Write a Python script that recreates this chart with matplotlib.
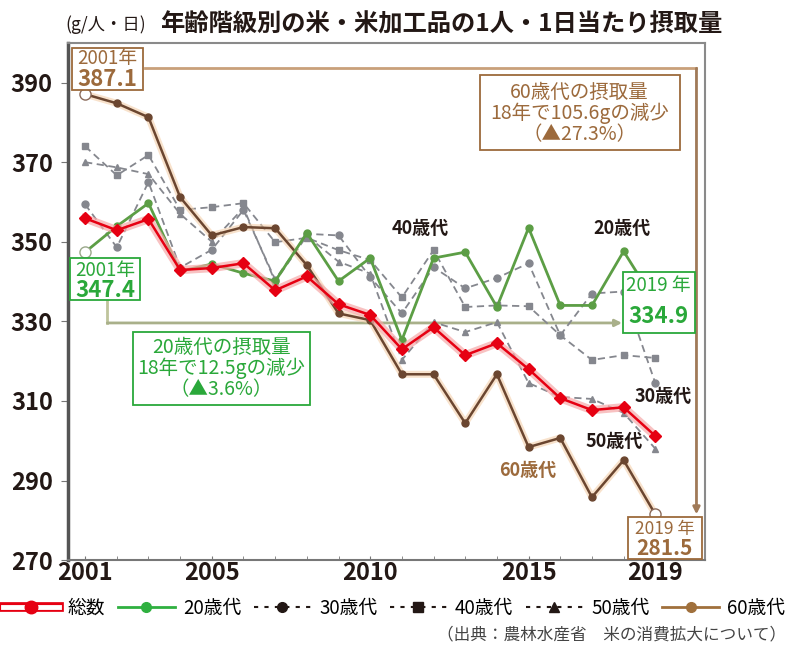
import matplotlib
matplotlib.use("Agg")
import matplotlib.pyplot as plt
from matplotlib.lines import Line2D
from matplotlib.patches import Rectangle
from matplotlib.legend_handler import HandlerTuple

plt.rcParams['font.family'] = ['Noto Sans CJK JP', 'DejaVu Sans']

# データ
years = list(range(2001, 2020))
total = [355.9, 352.9, 355.7, 342.9, 343.4, 344.6, 337.8, 341.3, 334.3, 331.6,
         323.0, 328.5, 321.5, 324.5, 318.0, 310.7, 307.7, 308.4, 301.2]
age20 = [347.4, 353.9, 359.7, 342.6, 344.4, 342.1, 340.1, 352.2, 340.1, 345.9,
         325.3, 345.9, 347.4, 333.6, 353.5, 334.0, 334.0, 347.6, 334.9]
age30 = [359.4, 348.6, 365.0, 343.5, 348.0, 358.0, 340.5, 352.0, 351.6, 341.1,
         332.0, 343.6, 338.3, 340.9, 344.6, 326.5, 337.0, 337.5, 314.5]
age40 = [374.0, 366.7, 371.8, 358.0, 358.7, 359.7, 349.9, 351.0, 347.9, 345.4,
         336.0, 347.9, 333.6, 334.0, 333.8, 326.5, 320.3, 321.5, 320.8]
age50 = [370.0, 368.7, 367.0, 357.0, 350.0, 358.5, 340.0, 351.5, 345.0, 342.0,
         320.3, 329.8, 327.3, 329.8, 314.5, 311.0, 310.5, 307.0, 298.0]
age60 = [387.1, 384.8, 381.3, 361.2, 351.6, 353.7, 353.4, 344.1, 332.0, 330.3,
         316.7, 316.7, 304.4, 316.7, 298.4, 300.7, 285.8, 295.1, 281.5]

xtick_years = [2001, 2005, 2010, 2015, 2019]
ytick_vals = [270, 290, 310, 330, 350, 370, 390]

RED = "#e60012"
GREEN = "#5c9e45"
GREEN_T = "#2aa83a"
GREY = "#85878e"
BROWN = "#6b4630"
BROWN_T = "#9c6a3c"

fig = plt.figure(figsize=(7.88, 6.49), dpi=100)
ax = fig.add_axes([0.0863, 0.137, 0.808, 0.797])
ax.set_xlim(2000.46, 2020.56)
ax.set_ylim(270, 400)

# 参照線（2001年→2019年）
ax.plot([2002.9, 2020.3], [393.6, 393.6], color="#c9a07a", lw=2, zorder=1)
ax.annotate("", xy=(2020.3, 281.5), xytext=(2020.3, 393.6),
            arrowprops=dict(arrowstyle="-|>", color="#a07a58", lw=2,
                            mutation_scale=10, shrinkA=0, shrinkB=0), zorder=1)
ax.plot([2001.7, 2001.7], [335.3, 329.6], color="#bfc49c", lw=2, zorder=1)
ax.annotate("", xy=(2017.95, 329.6), xytext=(2001.7, 329.6),
            arrowprops=dict(arrowstyle="-|>", color="#a9b08a", lw=2,
                            mutation_scale=10, shrinkA=0, shrinkB=0), zorder=1)

# 系列
dash_kw = dict(color=GREY, lw=1.3, dashes=(4, 2.5), ms=5, mfc=GREY, mec=GREY, zorder=3)
ax.plot(years, age40, marker="s", **dash_kw)
ax.plot(years, age50, marker="^", **dash_kw)
ax.plot(years, age30, marker="o", **dash_kw)

ax.plot(years, age60, color="#f4cfaa", lw=5, alpha=0.6, zorder=4)
ax.plot(years[:-1], age60[:-1], color=BROWN, lw=1.8, marker="o", ms=5, zorder=5)
ax.plot(years[-2:], age60[-2:], color=BROWN, lw=1.8, zorder=5)
ax.plot(years[-1], age60[-1], marker="o", ms=8, mfc="white", mec="#8a6a5a", zorder=6)
ax.plot(years[0], age60[0], marker="o", ms=8, mfc="white", mec="#8a6a5a", zorder=6)

ax.plot(years, age20, color=GREEN, lw=2, marker="o", ms=5, zorder=6)
ax.plot([years[0], years[-1]], [age20[0], age20[-1]], ls="none", marker="o", ms=8,
        mfc="white", mec="#9aa88a", zorder=7)

ax.plot(years, total, color="#f6a8a8", lw=6, alpha=0.7, zorder=7)
ax.plot(years, total, color=RED, lw=1.8, marker="D", ms=6, zorder=8)

# 軸
for side in ["top", "right"]:
    ax.spines[side].set_color("#8a8a8a")
    ax.spines[side].set_linewidth(1.5)
ax.spines["left"].set_color("#555555")
ax.spines["left"].set_linewidth(2.5)
ax.spines["bottom"].set_color("#777777")
ax.spines["bottom"].set_linewidth(1.5)

ax.set_xticks(xtick_years)
ax.set_xticks(years + [2020], minor=True)
ax.set_yticks(ytick_vals)
ax.tick_params(axis="x", which="both", direction="in", length=3, color="#777777",
               labelsize=17, pad=1)
ax.tick_params(axis="y", direction="out", length=5, color="#777777", labelsize=17, pad=6)
for lab in ax.get_xticklabels() + ax.get_yticklabels():
    lab.set_fontweight("bold")
    lab.set_color("#231815")

# タイトル
fig.text(0.083, 0.962, "(g/人・日)", fontsize=12.5, color="#231815", va="center")
fig.text(0.203, 0.962, "年齢階級別の米・米加工品の1人・1日当たり摂取量",
         fontsize=17.5, fontweight="bold", color="#231815", va="center")


def box(x0, y0, x1, y1, color):
    ax.add_patch(Rectangle((x0, y0), x1 - x0, y1 - y0, fill=True, fc="white",
                           ec=color, lw=1.3, zorder=9))


# 2001年 60歳代
box(2000.59, 388.1, 2002.83, 398.6, BROWN_T)
ax.text(2001.71, 396.0, "2001年", color=BROWN_T, fontsize=13.5, ha="center", va="center", zorder=10)
ax.text(2001.71, 390.9, "387.1", color=BROWN_T, fontsize=16, fontweight="bold",
        ha="center", va="center", zorder=10)

# 2001年 20歳代
box(2000.53, 335.3, 2002.73, 345.9, GREEN_T)
ax.text(2001.63, 342.9, "2001年", color=GREEN_T, fontsize=13.5, ha="center", va="center", zorder=10)
ax.text(2001.63, 337.8, "347.4", color=GREEN_T, fontsize=16, fontweight="bold",
        ha="center", va="center", zorder=10)

# 20歳代の摂取量
box(2002.51, 308.9, 2008.1, 327.3, GREEN_T)
ax.text(2005.3, 318.2, "20歳代の摂取量\n18年で12.5gの減少\n（▲3.6%）", color=GREEN_T,
        fontsize=14, ha="center", va="center", linespacing=1.0, zorder=10)

# 60歳代の摂取量
box(2013.46, 373.0, 2019.77, 391.9, BROWN_T)
ax.text(2016.6, 382.3, "60歳代の摂取量\n18年で105.6gの減少\n（▲27.3%）", color=BROWN_T,
        fontsize=14, ha="center", va="center", linespacing=1.0, zorder=10)

# 2019年 20歳代
box(2017.97, 327.0, 2020.24, 342.4, GREEN_T)
ax.text(2019.1, 339.0, "2019 年", color=GREEN_T, fontsize=13.5, ha="center", va="center", zorder=10)
ax.text(2019.1, 331.2, "334.9", color=GREEN_T, fontsize=16, fontweight="bold",
        ha="center", va="center", zorder=10)

# 2019年 60歳代
box(2018.13, 270.3, 2020.46, 280.8, BROWN_T)
ax.text(2019.3, 277.9, "2019 年", color=BROWN_T, fontsize=12.5, ha="center", va="center", zorder=10)
ax.text(2019.3, 273.0, "281.5", color=BROWN_T, fontsize=15, fontweight="bold",
        ha="center", va="center", zorder=10)

# 系列ラベル
lab_kw = dict(fontsize=13, fontweight="bold", ha="center", va="center", zorder=10)
ax.text(2011.57, 353.4, "40歳代", color="#231815", **lab_kw)
ax.text(2017.94, 353.4, "20歳代", color="#231815", **lab_kw)
ax.text(2019.25, 311.0, "30歳代", color="#231815", **lab_kw)
ax.text(2017.7, 299.9, "50歳代", color="#231815", **lab_kw)
ax.text(2014.97, 292.6, "60歳代", color=BROWN_T, **lab_kw)

# 凡例
h_total = (Line2D([], [], color=RED, lw=7),
           Line2D([], [], color="white", lw=3.5),
           Line2D([], [], color=RED, marker="o", ms=9, ls="none"))
h20 = Line2D([], [], color="#2fb040", lw=2, marker="o", ms=7)
h30 = Line2D([], [], color="#231815", lw=1.5, dashes=(2, 3), marker="o", ms=7)
h40 = Line2D([], [], color="#231815", lw=1.5, dashes=(2, 3), marker="s", ms=7)
h50 = Line2D([], [], color="#231815", lw=1.5, dashes=(2, 3), marker="^", ms=7)
h60 = Line2D([], [], color="#a0703c", lw=2, marker="o", ms=7)
fig.legend([h_total, h20, h30, h40, h50, h60],
           ["総数", "20歳代", "30歳代", "40歳代", "50歳代", "60歳代"],
           handler_map={tuple: HandlerTuple(ndivide=1, pad=0)},
           loc="center", bbox_to_anchor=(0.5, 0.063), ncol=6, frameon=False,
           fontsize=13.5, handlelength=3.0, handletextpad=0.45, columnspacing=0.7,
           borderaxespad=0, borderpad=0)

fig.text(0.997, 0.021, "（出典：農林水産省　米の消費拡大について）", fontsize=12,
         color="#444444", ha="right", va="center")

fig.savefig("out.png", dpi=100)
